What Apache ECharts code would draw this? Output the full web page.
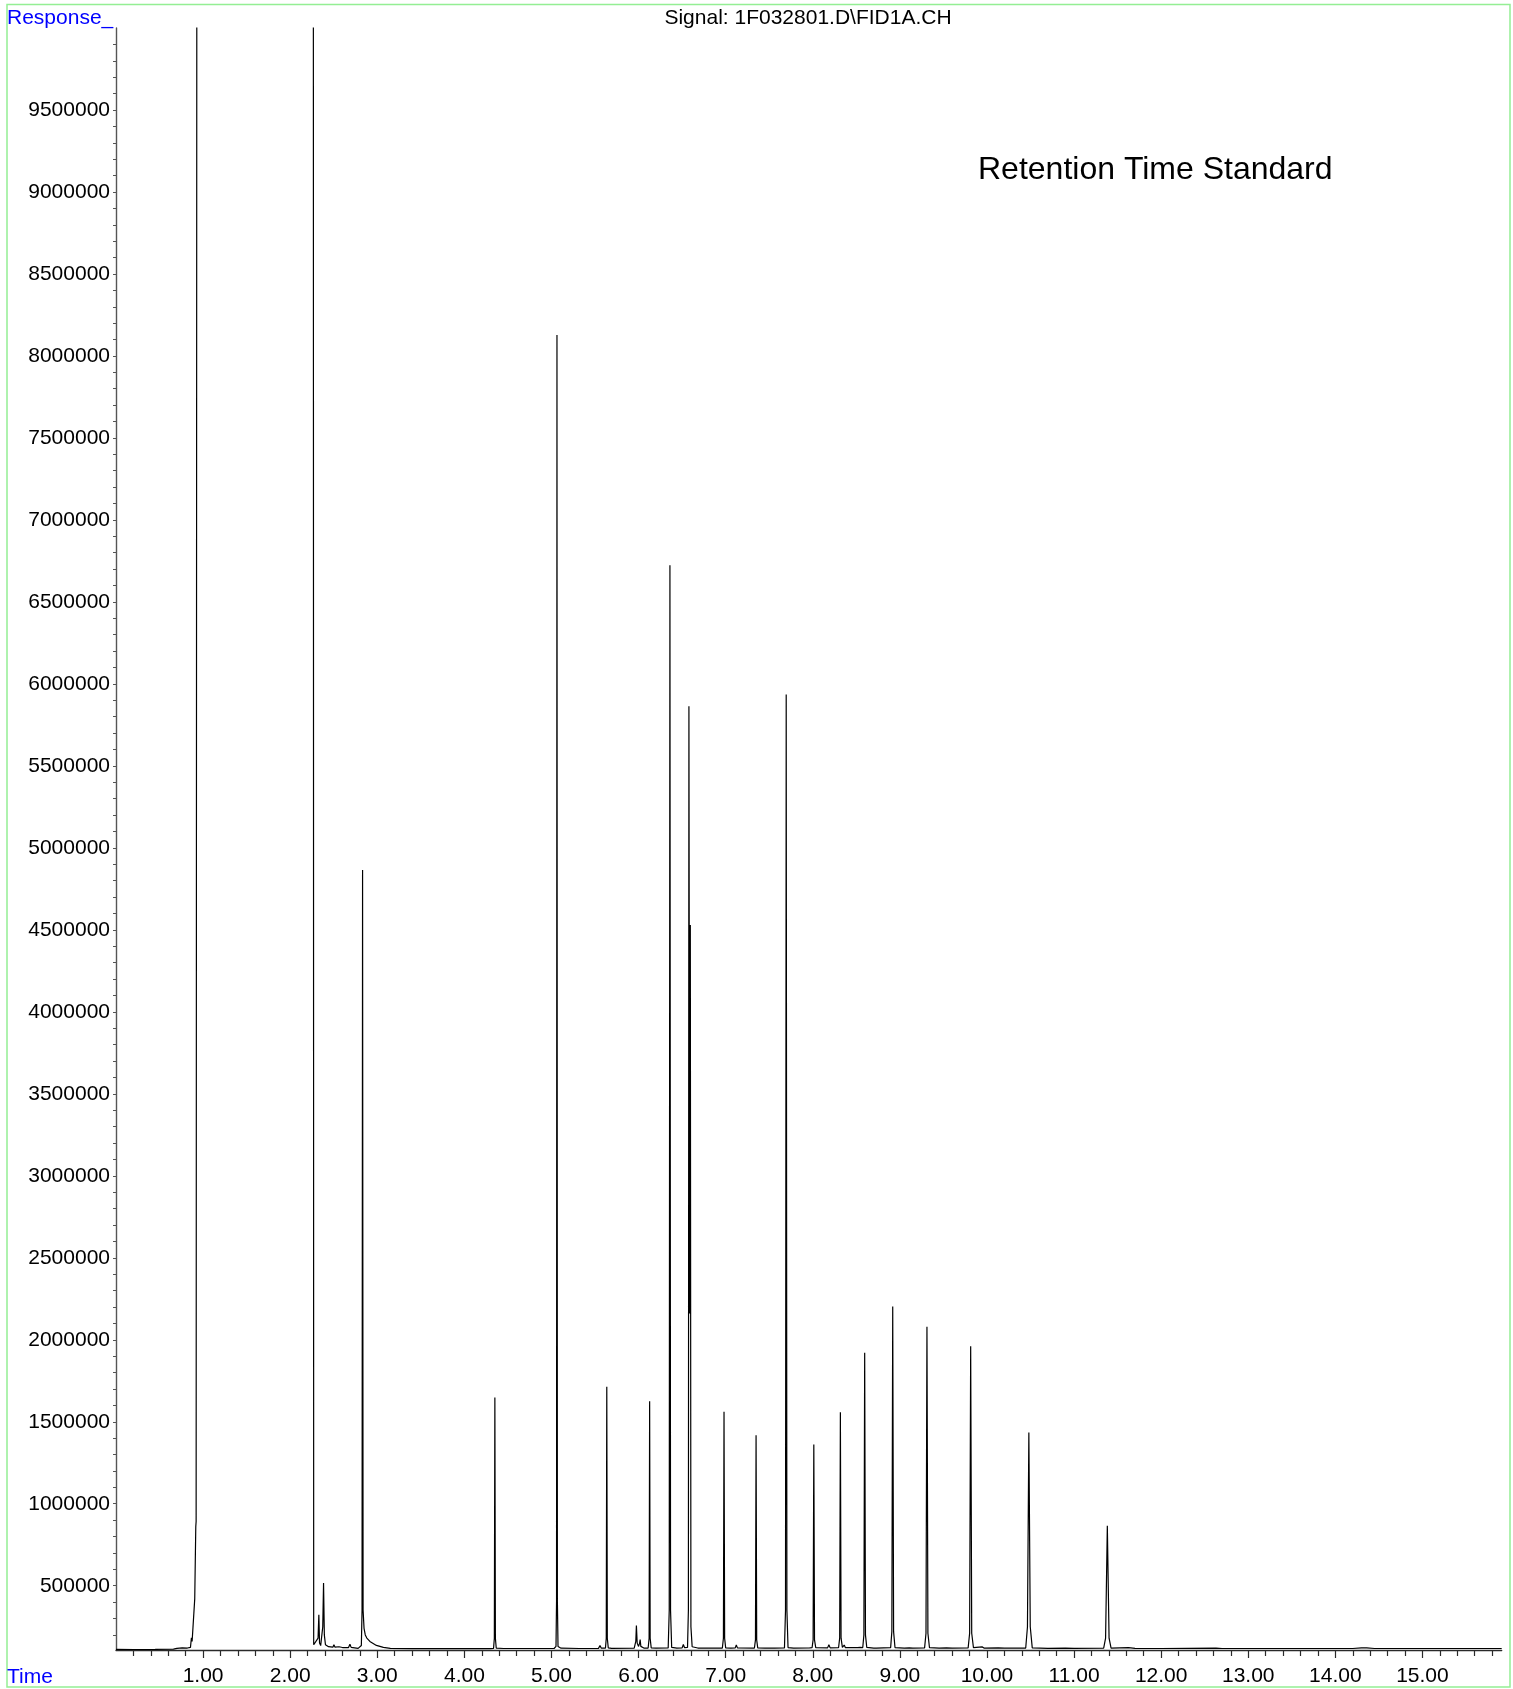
<!DOCTYPE html>
<html>
<head>
<meta charset="utf-8">
<title>FID1A chromatogram</title>
<script src="https://cdn.jsdelivr.net/npm/echarts@6/dist/echarts.min.js"></script>
<style>
  html, body { margin: 0; padding: 0; background: #ffffff; }
  #chart { width: 1513px; height: 1689px; }
</style>
</head>
<body>
<div id="chart"></div>
<script>
// Labelled time ticks (min) and response ticks
const timeTicks = [1, 2, 3, 4, 5, 6, 7, 8, 9, 10, 11, 12, 13, 14, 15];
const responseTicks = [500000, 1000000, 1500000, 2000000, 2500000, 3000000, 3500000,
  4000000, 4500000, 5000000, 5500000, 6000000, 6500000, 7000000, 7500000, 8000000,
  8500000, 9000000, 9500000];

// Detector trace: [time (min), response]. The solvent front between 0.94 and 2.26 min
// is far above full scale, so it is held at 2.0e7 and clipped by the plot area.
const signal = [
  [0.000, 112000], [0.200, 111000], [0.450, 111500], [0.660, 113000], [0.700, 118000],
  [0.760, 121000], [0.820, 120000], [0.855, 124000], [0.866, 183000], [0.874, 160000],
  [0.890, 158000], [0.904, 420000], [0.916, 860000], [0.920, 892000], [0.926, 900000],
  [0.936, 20000000], [2.262, 20000000], [2.270, 140000], [2.290, 134000], [2.320, 180000],
  [2.329, 323000], [2.337, 150000], [2.350, 135000], [2.374, 250000], [2.383, 516000],
  [2.392, 200000], [2.405, 140000], [2.440, 128000], [2.490, 125000], [2.502, 140000],
  [2.515, 125000], [2.560, 128000], [2.600, 123000], [2.670, 123000], [2.686, 143000],
  [2.700, 124000], [2.780, 118000], [2.817, 135000], [2.825, 350000], [2.831, 4865000],
  [2.837, 350000], [2.848, 240000], [2.862, 200000], [2.880, 181000], [2.915, 160000],
  [2.990, 136000], [3.070, 124000], [3.150, 118000], [3.400, 116000], [3.700, 117000],
  [4.000, 116000], [4.300, 116000], [4.335, 118000], [4.344, 180000], [4.350, 1648000],
  [4.356, 180000], [4.366, 119000], [4.450, 117000], [4.720, 117000], [4.735, 127000],
  [4.750, 117000], [5.030, 117000], [5.052, 130000], [5.058, 400000], [5.063, 8127000],
  [5.068, 400000], [5.075, 130000], [5.110, 119000], [5.320, 117000], [5.340, 123000],
  [5.360, 117000], [5.540, 118000], [5.557, 136000], [5.572, 119000], [5.620, 120000],
  [5.629, 180000], [5.635, 1714000], [5.641, 180000], [5.652, 121000], [5.690, 118000],
  [5.950, 120000], [5.968, 160000], [5.975, 257000], [5.984, 150000], [6.000, 130000],
  [6.012, 150000], [6.018, 172000], [6.026, 130000], [6.060, 120000], [6.110, 120000],
  [6.121, 180000], [6.127, 1625000], [6.133, 180000], [6.145, 121000], [6.200, 119000],
  [6.340, 121000], [6.352, 350000], [6.360, 6723000], [6.367, 350000], [6.380, 124000],
  [6.440, 119000], [6.500, 121000], [6.514, 142000], [6.528, 122000], [6.562, 124000],
  [6.572, 350000], [6.578, 5863000], [6.587, 2160000], [6.594, 4530000], [6.601, 250000],
  [6.615, 128000], [6.680, 120000], [6.800, 119000], [6.822, 125000], [6.840, 119000],
  [6.962, 120000], [6.974, 180000], [6.981, 1561000], [6.988, 180000], [7.000, 121000],
  [7.060, 119000], [7.110, 121000], [7.122, 138000], [7.135, 121000], [7.330, 120000],
  [7.342, 170000], [7.349, 1417000], [7.356, 170000], [7.368, 121000], [7.450, 119000],
  [7.560, 119000], [7.570, 123000], [7.580, 119000], [7.675, 121000], [7.687, 350000],
  [7.695, 5935000], [7.703, 350000], [7.716, 123000], [7.780, 119000], [7.790, 127000],
  [7.800, 119000], [7.965, 121000], [7.980, 126000], [7.992, 122000], [8.004, 170000],
  [8.012, 1362000], [8.020, 170000], [8.034, 122000], [8.170, 121000], [8.185, 140000],
  [8.200, 121000], [8.296, 122000], [8.309, 180000], [8.317, 1558000], [8.325, 180000],
  [8.340, 124000], [8.361, 138000], [8.375, 122000], [8.515, 122000], [8.528, 132000],
  [8.545, 124000], [8.574, 123000], [8.587, 200000], [8.596, 1921000], [8.605, 200000],
  [8.620, 124000], [8.700, 120000], [8.713, 125000], [8.730, 120000], [8.894, 122000],
  [8.908, 220000], [8.918, 2203000], [8.928, 220000], [8.944, 123000], [9.050, 119000],
  [9.108, 121000], [9.150, 119000], [9.284, 121000], [9.300, 210000], [9.311, 2080000],
  [9.322, 210000], [9.340, 122000], [9.450, 119000], [9.535, 121000], [9.600, 119000],
  [9.784, 121000], [9.801, 210000], [9.813, 1960000], [9.825, 210000], [9.845, 122000],
  [9.944, 127000], [9.970, 119000], [10.130, 121000], [10.200, 119000], [10.445, 120000],
  [10.465, 250000], [10.481, 1435000], [10.497, 250000], [10.520, 121000], [10.700, 118000],
  [10.900, 120000], [11.000, 118000], [11.340, 119000], [11.362, 180000], [11.382, 865000],
  [11.402, 180000], [11.425, 120000], [11.625, 122000], [11.700, 118000], [12.000, 117000],
  [12.630, 120000], [12.700, 117000], [13.500, 117000], [14.200, 117000], [14.300, 121000],
  [14.360, 121000], [14.450, 117000], [15.000, 117000], [15.910, 117000]
];

// Unlabelled response ticks every 100000
const responseMinorTicks = [];
for (let v = 200000; v <= 9900000; v += 100000) responseMinorTicks.push(v);

const FONT = '"Liberation Sans", Arial, Helvetica, sans-serif';
const chart = echarts.init(document.getElementById('chart'), null, { renderer: 'canvas' });

chart.setOption({
  animation: false,
  backgroundColor: '#ffffff',
  grid: { left: 116, right: 11.3, top: 28, bottom: 39, containLabel: false, outerBoundsMode: 'none' },
  xAxis: {
    type: 'value',
    min: 0,
    max: 15.91,
    interval: 1,
    axisLine: { show: true, onZero: false, lineStyle: { color: '#2a2a2a', width: 1.3 } },
    axisTick: { show: true, length: 8, customValues: timeTicks, lineStyle: { color: '#2a2a2a', width: 1.2 } },
    minorTick: { show: true, splitNumber: 5, length: 6, lineStyle: { color: '#2a2a2a', width: 1.2 } },
    axisLabel: {
      customValues: timeTicks,
      formatter: v => Number(v).toFixed(2),
      margin: 16,
      fontSize: 21,
      color: '#000000',
      fontFamily: FONT
    },
    splitLine: { show: false },
    minorSplitLine: { show: false }
  },
  yAxis: {
    type: 'value',
    min: 108000,
    max: 10000000,
    axisLine: { show: true, onZero: false, lineStyle: { color: '#555555', width: 1.4 } },
    axisTick: { show: true, length: 3, customValues: responseMinorTicks, lineStyle: { color: '#555555', width: 1 } },
    axisLabel: {
      customValues: responseTicks,
      formatter: v => String(v),
      margin: 6,
      fontSize: 21,
      color: '#000000',
      fontFamily: FONT
    },
    splitLine: { show: false }
  },
  series: [{
    type: 'line',
    data: signal,
    clip: true,
    showSymbol: false,
    symbol: 'none',
    smooth: false,
    lineStyle: { color: '#000000', width: 1.2 },
    emphasis: { disabled: true },
    silent: true,
    z: 3
  }],
  graphic: [
    {
      type: 'rect',
      shape: { x: 7, y: 4.5, width: 1503, height: 1682.5 },
      style: { fill: 'none', stroke: '#94ee94', lineWidth: 1.5 },
      silent: true
    },
    {
      type: 'text', x: 7, y: 18,
      style: { text: 'Response_', fill: '#0000ff', font: '21px ' + FONT, textAlign: 'left', textVerticalAlign: 'middle' }
    },
    {
      type: 'text', x: 7, y: 1677,
      style: { text: 'Time', fill: '#0000ff', font: '21px ' + FONT, textAlign: 'left', textVerticalAlign: 'middle' }
    },
    {
      type: 'text', x: 808, y: 18,
      style: { text: 'Signal: 1F032801.D\\FID1A.CH', fill: '#000000', font: '21px ' + FONT, textAlign: 'center', textVerticalAlign: 'middle' }
    },
    {
      type: 'text', x: 978, y: 170,
      style: { text: 'Retention Time Standard', fill: '#000000', font: '32px ' + FONT, textAlign: 'left', textVerticalAlign: 'middle' }
    }
  ]
});
</script>
</body>
</html>
